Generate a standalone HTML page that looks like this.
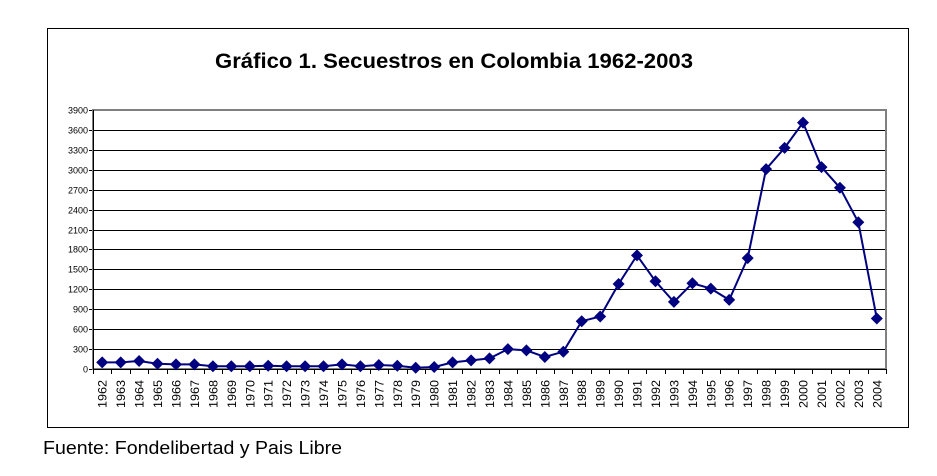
<!DOCTYPE html>
<html><head><meta charset="utf-8"><style>
html,body{margin:0;padding:0;background:#fff;}
svg{display:block;}
</style></head><body>
<svg id="s" width="937" height="476" xmlns="http://www.w3.org/2000/svg" font-family="Liberation Sans, Arial, sans-serif">
<rect x="0" y="0" width="937" height="476" fill="#fff"/>
<rect x="47.5" y="28.5" width="861" height="399" fill="none" stroke="#000" stroke-width="1"/>
<text x="454" y="68" font-size="21" font-weight="bold" text-anchor="middle" textLength="478" lengthAdjust="spacingAndGlyphs">Gráfico 1. Secuestros en Colombia 1962-2003</text>
<text x="43" y="454" font-size="18" textLength="299" lengthAdjust="spacingAndGlyphs">Fuente: Fondelibertad y Pais Libre</text>
<g id="g"></g>
</svg>
<script>
var g=document.getElementById('g');var h='';
var L=93,R=886,T=110,B=369;
function y(v){return B-(v/3900)*(B-T);}
function s(v){return Math.round(v)+0.5;}
for(var k=0;k<=13;k++){var v=k*300,yy=s(y(v));
 if(k>0&&k<13)h+='<line x1="'+L+'" x2="'+R+'" y1="'+yy+'" y2="'+yy+'" stroke="#000" stroke-width="1"/>';
 h+='<line x1="'+(L-4)+'" x2="'+L+'" y1="'+yy+'" y2="'+yy+'" stroke="#000"/>';
 h+='<text x="'+(L-5)+'" y="'+(yy+3)+'" font-size="9" text-anchor="end">'+v+'</text>';}
h+='<rect x="'+L+'" y="'+T+'" width="'+(R-L)+'" height="'+(B-T)+'" fill="none" stroke="#808080" stroke-width="2"/>';
h+='<line x1="'+(L+0.5)+'" x2="'+(L+0.5)+'" y1="'+T+'" y2="'+B+'" stroke="#000"/>';
h+='<line x1="'+L+'" x2="'+R+'" y1="'+(B+0.5)+'" y2="'+(B+0.5)+'" stroke="#000"/>';
var d=[100,100,120,80,70,70,40,40,40,50,40,40,40,70,40,60,50,20,30,100,130,160,300,280,180,260,720,790,1280,1710,1320,1010,1290,1210,1040,1670,3010,3330,3710,3040,2730,2210,760];
var n=43,w=(R-L)/n,pts=[];
for(var i=0;i<=n;i++){var xx=s(L+i*w);h+='<line x1="'+xx+'" x2="'+xx+'" y1="'+B+'" y2="'+(B+5)+'" stroke="#000"/>';}
for(var i=0;i<n;i++){var cx=L+w*(i+0.5),cy=y(d[i]);pts.push(cx.toFixed(1)+','+cy.toFixed(1));
 h+='<text transform="translate('+(cx+4.5)+',408) rotate(-90)" font-size="12" textLength="28" lengthAdjust="spacingAndGlyphs">'+(1962+i)+'</text>';}
h+='<polyline points="'+pts.join(' ')+'" fill="none" stroke="#000080" stroke-width="2"/>';
for(var i=0;i<n;i++){var p=pts[i].split(','),cx=+p[0],cy=+p[1];
 h+='<polygon points="'+cx+','+(cy-6)+' '+(cx+6)+','+cy+' '+cx+','+(cy+6)+' '+(cx-6)+','+cy+'" fill="#000080"/>';}
g.innerHTML=h;
</script>
</body></html>
